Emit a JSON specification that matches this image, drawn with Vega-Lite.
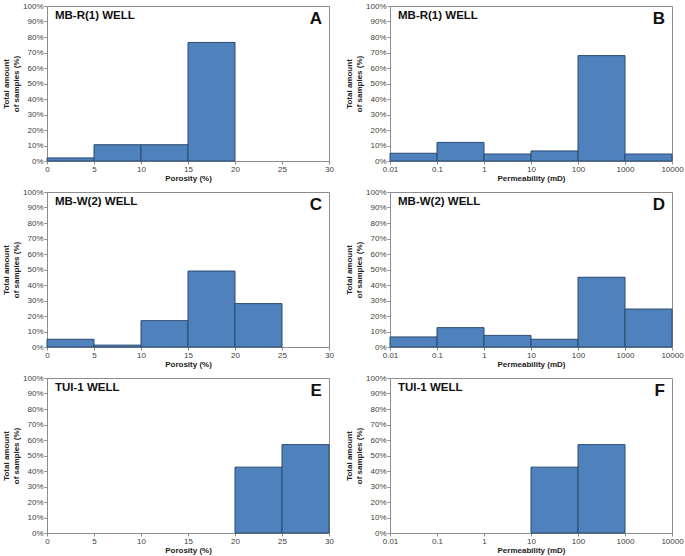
{
  "$schema": "https://vega.github.io/schema/vega-lite/v6.json",
  "background": "white",
  "padding": {"left": 2, "top": 1, "right": 2, "bottom": 2},
  "datasets": {
    "bars": [
      {"panel": "A", "lo": 0, "hi": 5, "pct": 2},
      {"panel": "A", "lo": 5, "hi": 10, "pct": 10.5},
      {"panel": "A", "lo": 10, "hi": 15, "pct": 10.5},
      {"panel": "A", "lo": 15, "hi": 20, "pct": 76.5},
      {"panel": "B", "lo": 0.01, "hi": 0.1, "pct": 5},
      {"panel": "B", "lo": 0.1, "hi": 1, "pct": 12},
      {"panel": "B", "lo": 1, "hi": 10, "pct": 4.5},
      {"panel": "B", "lo": 10, "hi": 100, "pct": 6.5},
      {"panel": "B", "lo": 100, "hi": 1000, "pct": 68},
      {"panel": "B", "lo": 1000, "hi": 10000, "pct": 4.5},
      {"panel": "C", "lo": 0, "hi": 5, "pct": 5},
      {"panel": "C", "lo": 5, "hi": 10, "pct": 1.2},
      {"panel": "C", "lo": 10, "hi": 15, "pct": 17},
      {"panel": "C", "lo": 15, "hi": 20, "pct": 49},
      {"panel": "C", "lo": 20, "hi": 25, "pct": 28},
      {"panel": "D", "lo": 0.01, "hi": 0.1, "pct": 6.5},
      {"panel": "D", "lo": 0.1, "hi": 1, "pct": 12.5},
      {"panel": "D", "lo": 1, "hi": 10, "pct": 7.5},
      {"panel": "D", "lo": 10, "hi": 100, "pct": 5},
      {"panel": "D", "lo": 100, "hi": 1000, "pct": 45},
      {"panel": "D", "lo": 1000, "hi": 10000, "pct": 24.5},
      {"panel": "E", "lo": 20, "hi": 25, "pct": 42.5},
      {"panel": "E", "lo": 25, "hi": 30, "pct": 57},
      {"panel": "F", "lo": 10, "hi": 100, "pct": 42.5},
      {"panel": "F", "lo": 100, "hi": 1000, "pct": 57}
    ],
    "labels": [
      {"panel": "A", "well": "MB-R(1) WELL", "letter": "A"},
      {"panel": "B", "well": "MB-R(1) WELL", "letter": "B"},
      {"panel": "C", "well": "MB-W(2) WELL", "letter": "C"},
      {"panel": "D", "well": "MB-W(2) WELL", "letter": "D"},
      {"panel": "E", "well": "TUI-1 WELL", "letter": "E"},
      {"panel": "F", "well": "TUI-1 WELL", "letter": "F"}
    ]
  },
  "config": {
    "font": "Liberation Sans",
    "view": {"stroke": "#8c8c8c", "strokeWidth": 1},
    "axis": {
      "grid": false,
      "domainColor": "#8c8c8c",
      "tickColor": "#8c8c8c",
      "tickSize": 3,
      "labelFontSize": 8,
      "labelColor": "#404040",
      "labelOverlap": false,
      "labelFlush": false,
      "labelPadding": 1,
      "titleFontSize": 8,
      "titleFontWeight": "bold",
      "titleColor": "#222222",
      "titlePadding": 2
    },
    "axisX": {"titlePadding": 1}
  },
  "columns": 2,
  "spacing": {"row": 4, "column": 11},
  "concat": [
    {
      "width": 282, "height": 155,
      "layer": [
        {"data": {"name": "bars"}, "transform": [{"filter": "datum.panel == 'A'"}],
         "mark": {"type": "rect", "fill": "#4F81BD", "stroke": "#2B4A70", "strokeWidth": 1},
         "encoding": {
           "x": {"field": "lo", "type": "quantitative", "scale": {"domain": [0, 30], "nice": false}, "axis": {"values": [0, 5, 10, 15, 20, 25, 30], "title": "Porosity (%)"}},
           "x2": {"field": "hi"},
           "y": {"field": "pct", "type": "quantitative", "scale": {"domain": [0, 100], "nice": false}, "axis": {"values": [0, 10, 20, 30, 40, 50, 60, 70, 80, 90, 100], "labelExpr": "datum.value + '%'", "title": ["Total amount", "of samples (%)"]}},
           "y2": {"datum": 0}
         }},
        {"data": {"name": "labels"}, "transform": [{"filter": "datum.panel == 'A'"}],
         "mark": {"type": "text", "align": "left", "baseline": "middle", "fontWeight": "bold", "fontSize": 11.5, "color": "#111"},
         "encoding": {"x": {"datum": 0.85, "axis": {"values": [0, 5, 10, 15, 20, 25, 30], "title": "Porosity (%)"}}, "y": {"datum": 93.5, "axis": {"values": [0, 10, 20, 30, 40, 50, 60, 70, 80, 90, 100], "labelExpr": "datum.value + '%'", "title": ["Total amount", "of samples (%)"]}}, "text": {"field": "well"}}},
        {"data": {"name": "labels"}, "transform": [{"filter": "datum.panel == 'A'"}],
         "mark": {"type": "text", "align": "right", "baseline": "middle", "fontWeight": "bold", "fontSize": 17, "color": "#111"},
         "encoding": {"x": {"datum": 29.25, "axis": {"values": [0, 5, 10, 15, 20, 25, 30], "title": "Porosity (%)"}}, "y": {"datum": 91.5, "axis": {"values": [0, 10, 20, 30, 40, 50, 60, 70, 80, 90, 100], "labelExpr": "datum.value + '%'", "title": ["Total amount", "of samples (%)"]}}, "text": {"field": "letter"}}}
      ]
    },
    {
      "width": 282, "height": 155,
      "layer": [
        {"data": {"name": "bars"}, "transform": [{"filter": "datum.panel == 'B'"}],
         "mark": {"type": "rect", "fill": "#4F81BD", "stroke": "#2B4A70", "strokeWidth": 1},
         "encoding": {
           "x": {"field": "lo", "type": "quantitative", "scale": {"type": "log", "domain": [0.01, 10000], "nice": false}, "axis": {"values": [0.01, 0.1, 1, 10, 100, 1000, 10000], "format": "~g", "title": "Permeability (mD)"}},
           "x2": {"field": "hi"},
           "y": {"field": "pct", "type": "quantitative", "scale": {"domain": [0, 100], "nice": false}, "axis": {"values": [0, 10, 20, 30, 40, 50, 60, 70, 80, 90, 100], "labelExpr": "datum.value + '%'", "title": ["Total amount", "of samples (%)"]}},
           "y2": {"datum": 0}
         }},
        {"data": {"name": "labels"}, "transform": [{"filter": "datum.panel == 'B'"}],
         "mark": {"type": "text", "align": "left", "baseline": "middle", "fontWeight": "bold", "fontSize": 11.5, "color": "#111"},
         "encoding": {"x": {"datum": 0.0148, "axis": {"values": [0.01, 0.1, 1, 10, 100, 1000, 10000], "format": "~g", "title": "Permeability (mD)"}}, "y": {"datum": 93.5, "axis": {"values": [0, 10, 20, 30, 40, 50, 60, 70, 80, 90, 100], "labelExpr": "datum.value + '%'", "title": ["Total amount", "of samples (%)"]}}, "text": {"field": "well"}}},
        {"data": {"name": "labels"}, "transform": [{"filter": "datum.panel == 'B'"}],
         "mark": {"type": "text", "align": "right", "baseline": "middle", "fontWeight": "bold", "fontSize": 17, "color": "#111"},
         "encoding": {"x": {"datum": 7100, "axis": {"values": [0.01, 0.1, 1, 10, 100, 1000, 10000], "format": "~g", "title": "Permeability (mD)"}}, "y": {"datum": 91.5, "axis": {"values": [0, 10, 20, 30, 40, 50, 60, 70, 80, 90, 100], "labelExpr": "datum.value + '%'", "title": ["Total amount", "of samples (%)"]}}, "text": {"field": "letter"}}}
      ]
    },
    {
      "width": 282, "height": 155,
      "layer": [
        {"data": {"name": "bars"}, "transform": [{"filter": "datum.panel == 'C'"}],
         "mark": {"type": "rect", "fill": "#4F81BD", "stroke": "#2B4A70", "strokeWidth": 1},
         "encoding": {
           "x": {"field": "lo", "type": "quantitative", "scale": {"domain": [0, 30], "nice": false}, "axis": {"values": [0, 5, 10, 15, 20, 25, 30], "title": "Porosity (%)"}},
           "x2": {"field": "hi"},
           "y": {"field": "pct", "type": "quantitative", "scale": {"domain": [0, 100], "nice": false}, "axis": {"values": [0, 10, 20, 30, 40, 50, 60, 70, 80, 90, 100], "labelExpr": "datum.value + '%'", "title": ["Total amount", "of samples (%)"]}},
           "y2": {"datum": 0}
         }},
        {"data": {"name": "labels"}, "transform": [{"filter": "datum.panel == 'C'"}],
         "mark": {"type": "text", "align": "left", "baseline": "middle", "fontWeight": "bold", "fontSize": 11.5, "color": "#111"},
         "encoding": {"x": {"datum": 0.85, "axis": {"values": [0, 5, 10, 15, 20, 25, 30], "title": "Porosity (%)"}}, "y": {"datum": 93.5, "axis": {"values": [0, 10, 20, 30, 40, 50, 60, 70, 80, 90, 100], "labelExpr": "datum.value + '%'", "title": ["Total amount", "of samples (%)"]}}, "text": {"field": "well"}}},
        {"data": {"name": "labels"}, "transform": [{"filter": "datum.panel == 'C'"}],
         "mark": {"type": "text", "align": "right", "baseline": "middle", "fontWeight": "bold", "fontSize": 17, "color": "#111"},
         "encoding": {"x": {"datum": 29.25, "axis": {"values": [0, 5, 10, 15, 20, 25, 30], "title": "Porosity (%)"}}, "y": {"datum": 91.5, "axis": {"values": [0, 10, 20, 30, 40, 50, 60, 70, 80, 90, 100], "labelExpr": "datum.value + '%'", "title": ["Total amount", "of samples (%)"]}}, "text": {"field": "letter"}}}
      ]
    },
    {
      "width": 282, "height": 155,
      "layer": [
        {"data": {"name": "bars"}, "transform": [{"filter": "datum.panel == 'D'"}],
         "mark": {"type": "rect", "fill": "#4F81BD", "stroke": "#2B4A70", "strokeWidth": 1},
         "encoding": {
           "x": {"field": "lo", "type": "quantitative", "scale": {"type": "log", "domain": [0.01, 10000], "nice": false}, "axis": {"values": [0.01, 0.1, 1, 10, 100, 1000, 10000], "format": "~g", "title": "Permeability (mD)"}},
           "x2": {"field": "hi"},
           "y": {"field": "pct", "type": "quantitative", "scale": {"domain": [0, 100], "nice": false}, "axis": {"values": [0, 10, 20, 30, 40, 50, 60, 70, 80, 90, 100], "labelExpr": "datum.value + '%'", "title": ["Total amount", "of samples (%)"]}},
           "y2": {"datum": 0}
         }},
        {"data": {"name": "labels"}, "transform": [{"filter": "datum.panel == 'D'"}],
         "mark": {"type": "text", "align": "left", "baseline": "middle", "fontWeight": "bold", "fontSize": 11.5, "color": "#111"},
         "encoding": {"x": {"datum": 0.0148, "axis": {"values": [0.01, 0.1, 1, 10, 100, 1000, 10000], "format": "~g", "title": "Permeability (mD)"}}, "y": {"datum": 93.5, "axis": {"values": [0, 10, 20, 30, 40, 50, 60, 70, 80, 90, 100], "labelExpr": "datum.value + '%'", "title": ["Total amount", "of samples (%)"]}}, "text": {"field": "well"}}},
        {"data": {"name": "labels"}, "transform": [{"filter": "datum.panel == 'D'"}],
         "mark": {"type": "text", "align": "right", "baseline": "middle", "fontWeight": "bold", "fontSize": 17, "color": "#111"},
         "encoding": {"x": {"datum": 7100, "axis": {"values": [0.01, 0.1, 1, 10, 100, 1000, 10000], "format": "~g", "title": "Permeability (mD)"}}, "y": {"datum": 91.5, "axis": {"values": [0, 10, 20, 30, 40, 50, 60, 70, 80, 90, 100], "labelExpr": "datum.value + '%'", "title": ["Total amount", "of samples (%)"]}}, "text": {"field": "letter"}}}
      ]
    },
    {
      "width": 282, "height": 155,
      "layer": [
        {"data": {"name": "bars"}, "transform": [{"filter": "datum.panel == 'E'"}],
         "mark": {"type": "rect", "fill": "#4F81BD", "stroke": "#2B4A70", "strokeWidth": 1},
         "encoding": {
           "x": {"field": "lo", "type": "quantitative", "scale": {"domain": [0, 30], "nice": false}, "axis": {"values": [0, 5, 10, 15, 20, 25, 30], "title": "Porosity (%)"}},
           "x2": {"field": "hi"},
           "y": {"field": "pct", "type": "quantitative", "scale": {"domain": [0, 100], "nice": false}, "axis": {"values": [0, 10, 20, 30, 40, 50, 60, 70, 80, 90, 100], "labelExpr": "datum.value + '%'", "title": ["Total amount", "of samples (%)"]}},
           "y2": {"datum": 0}
         }},
        {"data": {"name": "labels"}, "transform": [{"filter": "datum.panel == 'E'"}],
         "mark": {"type": "text", "align": "left", "baseline": "middle", "fontWeight": "bold", "fontSize": 11.5, "color": "#111"},
         "encoding": {"x": {"datum": 0.85, "axis": {"values": [0, 5, 10, 15, 20, 25, 30], "title": "Porosity (%)"}}, "y": {"datum": 93.5, "axis": {"values": [0, 10, 20, 30, 40, 50, 60, 70, 80, 90, 100], "labelExpr": "datum.value + '%'", "title": ["Total amount", "of samples (%)"]}}, "text": {"field": "well"}}},
        {"data": {"name": "labels"}, "transform": [{"filter": "datum.panel == 'E'"}],
         "mark": {"type": "text", "align": "right", "baseline": "middle", "fontWeight": "bold", "fontSize": 17, "color": "#111"},
         "encoding": {"x": {"datum": 29.25, "axis": {"values": [0, 5, 10, 15, 20, 25, 30], "title": "Porosity (%)"}}, "y": {"datum": 91.5, "axis": {"values": [0, 10, 20, 30, 40, 50, 60, 70, 80, 90, 100], "labelExpr": "datum.value + '%'", "title": ["Total amount", "of samples (%)"]}}, "text": {"field": "letter"}}}
      ]
    },
    {
      "width": 282, "height": 155,
      "layer": [
        {"data": {"name": "bars"}, "transform": [{"filter": "datum.panel == 'F'"}],
         "mark": {"type": "rect", "fill": "#4F81BD", "stroke": "#2B4A70", "strokeWidth": 1},
         "encoding": {
           "x": {"field": "lo", "type": "quantitative", "scale": {"type": "log", "domain": [0.01, 10000], "nice": false}, "axis": {"values": [0.01, 0.1, 1, 10, 100, 1000, 10000], "format": "~g", "title": "Permeability (mD)"}},
           "x2": {"field": "hi"},
           "y": {"field": "pct", "type": "quantitative", "scale": {"domain": [0, 100], "nice": false}, "axis": {"values": [0, 10, 20, 30, 40, 50, 60, 70, 80, 90, 100], "labelExpr": "datum.value + '%'", "title": ["Total amount", "of samples (%)"]}},
           "y2": {"datum": 0}
         }},
        {"data": {"name": "labels"}, "transform": [{"filter": "datum.panel == 'F'"}],
         "mark": {"type": "text", "align": "left", "baseline": "middle", "fontWeight": "bold", "fontSize": 11.5, "color": "#111"},
         "encoding": {"x": {"datum": 0.0148, "axis": {"values": [0.01, 0.1, 1, 10, 100, 1000, 10000], "format": "~g", "title": "Permeability (mD)"}}, "y": {"datum": 93.5, "axis": {"values": [0, 10, 20, 30, 40, 50, 60, 70, 80, 90, 100], "labelExpr": "datum.value + '%'", "title": ["Total amount", "of samples (%)"]}}, "text": {"field": "well"}}},
        {"data": {"name": "labels"}, "transform": [{"filter": "datum.panel == 'F'"}],
         "mark": {"type": "text", "align": "right", "baseline": "middle", "fontWeight": "bold", "fontSize": 17, "color": "#111"},
         "encoding": {"x": {"datum": 7100, "axis": {"values": [0.01, 0.1, 1, 10, 100, 1000, 10000], "format": "~g", "title": "Permeability (mD)"}}, "y": {"datum": 91.5, "axis": {"values": [0, 10, 20, 30, 40, 50, 60, 70, 80, 90, 100], "labelExpr": "datum.value + '%'", "title": ["Total amount", "of samples (%)"]}}, "text": {"field": "letter"}}}
      ]
    }
  ]
}
